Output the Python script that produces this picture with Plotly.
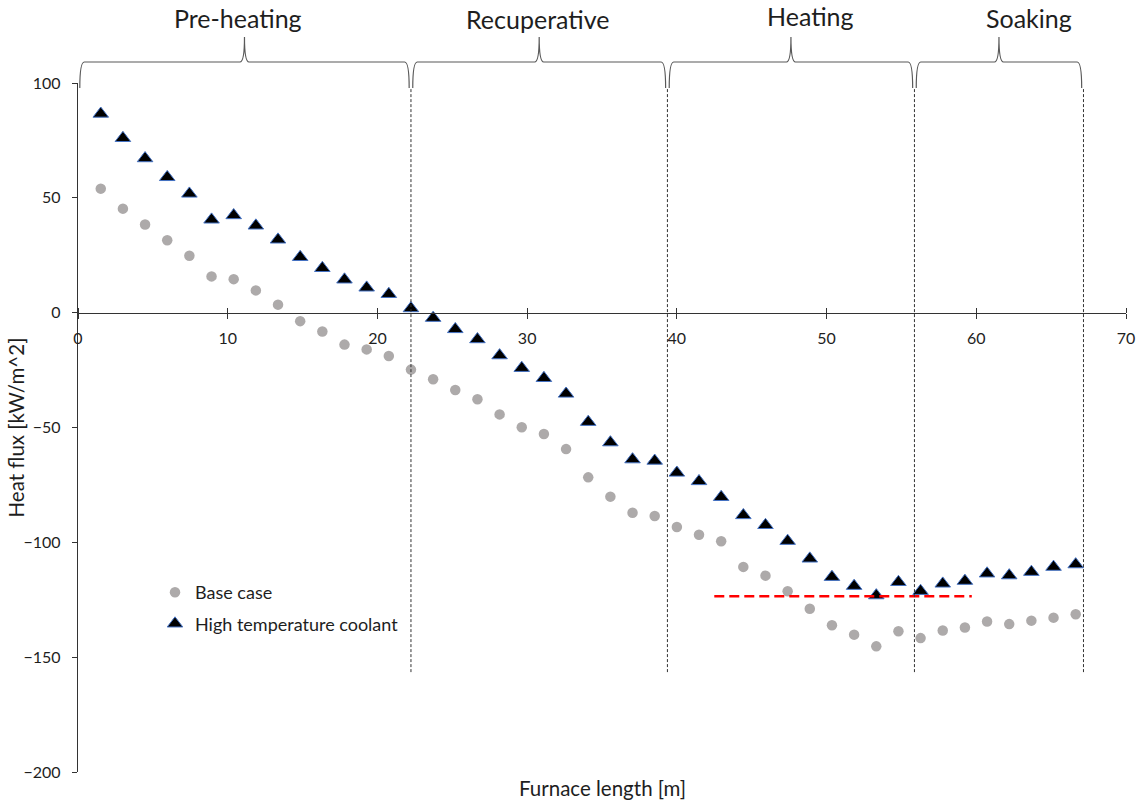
import plotly.graph_objects as go

# ---------------- data ----------------
furnace_length = [1.52, 3.00, 4.48, 5.96, 7.44, 8.92, 10.40, 11.88, 13.36, 14.84,
                  16.32, 17.80, 19.28, 20.76, 22.24, 23.72, 25.20, 26.68, 28.16, 29.64,
                  31.12, 32.60, 34.08, 35.56, 37.04, 38.52, 40.00, 41.48, 42.96, 44.44,
                  45.92, 47.40, 48.88, 50.36, 51.84, 53.32, 54.80, 56.28, 57.76, 59.24,
                  60.72, 62.20, 63.68, 65.16, 66.64]

base_case = [54.0, 45.3, 38.4, 31.5, 24.8, 15.8, 14.6, 9.7, 3.5, -3.7,
             -8.2, -13.9, -16.0, -18.9, -24.8, -29.0, -33.7, -37.7, -44.3, -49.9,
             -52.8, -59.4, -71.7, -80.1, -87.1, -88.5, -93.3, -96.7, -99.5, -110.7,
             -114.5, -121.3, -128.9, -136.1, -140.2, -145.3, -138.7, -141.7, -138.4, -137.1,
             -134.5, -135.6, -134.1, -132.8, -131.3]

high_temp_coolant = [86.6, 76.0, 67.2, 59.0, 51.8, 40.5, 42.4, 37.9, 31.8, 24.2,
                     19.4, 14.4, 10.9, 8.1, 1.9, -2.3, -7.2, -11.6, -18.6, -24.1,
                     -28.5, -35.3, -47.6, -56.5, -63.9, -64.5, -69.7, -73.4, -80.3, -88.2,
                     -92.5, -99.4, -107.1, -115.1, -119.0, -123.1, -117.3, -121.2, -118.0, -116.8,
                     -113.6, -114.4, -112.9, -110.7, -109.6]

zone_names = ["Pre-heating", "Recuperative", "Heating", "Soaking"]
zone_bounds = [0.0, 22.24, 39.37, 55.87, 67.16]
zone_label_x = [10.7, 30.7, 48.9, 63.5]
zone_label_px = [18, 19, 16.5, 18]

ref_line_x = [42.5, 59.7]
ref_line_y = [-123.5, -123.5]

divider_y = [-156.5, 97.6]

x_range = [0, 70]
y_range = [-200, 100]
x_ticks = [0, 10, 20, 30, 40, 50, 60, 70]
y_ticks = [-200, -150, -100, -50, 0, 50, 100]

# ---------------- layout geometry ----------------
W, H = 1137, 802
M_L, M_R, M_T, M_B = 78, 11, 83, 30
plot_w = W - M_L - M_R
plot_h = H - M_T - M_B
FONT = "Lato, 'Open Sans', sans-serif"
TXT = "#1e1e1e"
AX = "#333333"


def py2paper(py):
    return (H - M_B - py) / plot_h


x_axis_pos = (0 - y_range[0]) / (y_range[1] - y_range[0])

fig = go.Figure()

fig.add_trace(go.Scatter(
    x=furnace_length, y=base_case, mode="markers", name="Base case",
    legendgroup="a",
    marker=dict(symbol="circle", size=10.5, color="#ADAAAA", line=dict(width=0)),
))
fig.add_trace(go.Scatter(
    x=furnace_length, y=high_temp_coolant, mode="markers",
    name="High temperature coolant", legendgroup="b",
    marker=dict(symbol="triangle-up", size=13.5, color="#000000",
                line=dict(width=1, color="#4472C4")),
))
fig.add_trace(go.Scatter(
    x=ref_line_x, y=ref_line_y, mode="lines", showlegend=False, hoverinfo="skip",
    line=dict(color="#FF0000", width=2.5, dash="10px,5px"),
))
# dummy trace for the upper half of the crossing x ticks
fig.add_trace(go.Scatter(x=[None], y=[None], xaxis="x2", yaxis="y",
                         showlegend=False, hoverinfo="skip"))

shapes = []
for b in zone_bounds[1:]:
    shapes.append(dict(type="line", xref="x", yref="y", x0=b, x1=b,
                       y0=divider_y[0], y1=divider_y[1],
                       line=dict(color=AX, width=1, dash="3px,2px")))

yE, yHz, yP = py2paper(88), py2paper(62), py2paper(37)
e, d = 0.12, 0.3
for a, b in zip(zone_bounds[:-1], zone_bounds[1:]):
    m = (a + b) / 2
    path = (f"M{a+e},{yE} Q{a+e},{yHz} {a+e+d},{yHz} L{m-d},{yHz} "
            f"Q{m},{yHz} {m},{yP} Q{m},{yHz} {m+d},{yHz} L{b-e-d},{yHz} "
            f"Q{b-e},{yHz} {b-e},{yE}")
    shapes.append(dict(type="path", xref="x", yref="paper", path=path,
                       line=dict(color="#595959", width=1.2)))

annotations = []
for name, lx, lpy in zip(zone_names, zone_label_x, zone_label_px):
    annotations.append(dict(text=name, x=lx, y=py2paper(lpy), xref="x", yref="paper",
                            showarrow=False, xanchor="center", yanchor="middle",
                            font=dict(family=FONT, size=25, color=TXT)))
annotations.append(dict(text="Furnace length [m]", x=0.5, y=py2paper(788),
                        xref="paper", yref="paper", showarrow=False,
                        xanchor="center", yanchor="middle",
                        font=dict(family=FONT, size=20.5, color=TXT)))
annotations.append(dict(text="Heat flux [kW/m^2]", x=(15 - M_L) / plot_w, y=0.5,
                        xref="paper", yref="paper", showarrow=False, textangle=-90,
                        xanchor="center", yanchor="middle",
                        font=dict(family=FONT, size=20.5, color=TXT)))

fig.update_layout(
    width=W, height=H,
    margin=dict(l=M_L, r=M_R, t=M_T, b=M_B, autoexpand=False),
    paper_bgcolor="white", plot_bgcolor="white",
    font=dict(family=FONT, size=15, color=TXT),
    showlegend=True,
    legend=dict(x=(155 - M_L) / plot_w, y=py2paper(574),
                xanchor="left", yanchor="top", bgcolor="rgba(0,0,0,0)",
                traceorder="grouped", tracegroupgap=5,
                font=dict(family=FONT, size=18, color=TXT)),
    xaxis=dict(range=x_range, anchor="free", position=x_axis_pos, automargin=False,
               showline=True, linecolor=AX, linewidth=1.3,
               ticks="outside", ticklen=5, tickcolor=AX, tickwidth=1.3,
               tickvals=x_ticks, ticklabelstandoff=6,
               showgrid=False, zeroline=False,
               tickfont=dict(family=FONT, size=16, color=TXT)),
    xaxis2=dict(range=x_range, overlaying="x", anchor="free", position=x_axis_pos,
                automargin=False,
                side="top", showline=False, ticks="outside", ticklen=5,
                tickcolor=AX, tickwidth=1.3, tickvals=x_ticks,
                showticklabels=False, showgrid=False, zeroline=False),
    yaxis=dict(range=y_range, showline=True, linecolor=AX, linewidth=1.3,
               automargin=False,
               ticks="outside", ticklen=5, tickcolor=AX, tickwidth=1.3,
               tickvals=y_ticks, ticklabelstandoff=8,
               showgrid=False, zeroline=False,
               tickfont=dict(family=FONT, size=16, color=TXT)),
    shapes=shapes,
    annotations=annotations,
)

fig.write_html("out.html")
